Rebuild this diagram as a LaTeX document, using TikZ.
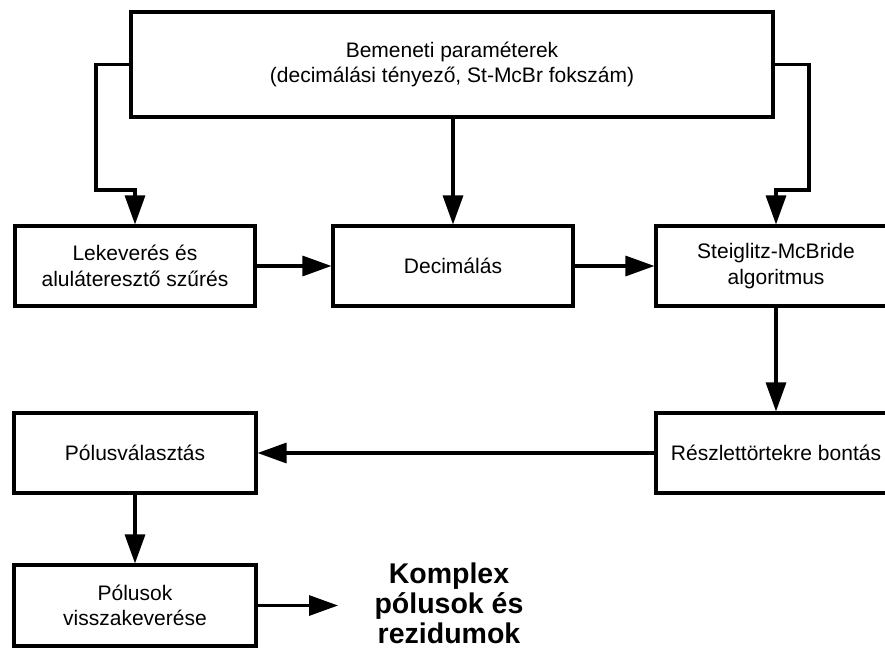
\documentclass[tikz,border=0pt]{standalone}
\usepackage{fontspec}
\setmainfont{Liberation Sans}
\usetikzlibrary{arrows.meta}
\begin{document}
\begin{tikzpicture}[x=1pt,y=-1pt,
  box/.style={draw,line width=3.1pt,fill=white,minimum width=240pt,minimum height=80pt,
    align=center,inner sep=0pt,font=\fontsize{21}{25.5}\selectfont},
  flow/.style={line width=3.1pt,-{Triangle[length=29pt,width=20pt]}}]
\useasboundingbox (0,0) rectangle (885,648);
\clip (0,0) rectangle (885,648);
\fill[white] (0,0) rectangle (885,648);

% blocks
\node[box,minimum width=642pt,minimum height=105pt] (par) at (452,64.5)
  {Bemeneti paraméterek\\(decimálási tényező, St-McBr fokszám)};
\node[box] (mix) at (135,266) {Lekeverés és\\aluláteresztő szűrés};
\node[box] (dec) at (453,266) {Decimálás};
\node[box] (smb) at (776,266) {Steiglitz-McBride\\algoritmus};
\node[box] (pfd) at (776,453) {Részlettörtekre bontás};
\node[box,minimum width=242pt] (sel) at (135,453) {Pólusválasztás};
\node[box,minimum width=242pt,minimum height=81pt] (rem) at (135,605.5) {Pólusok\\visszakeverése};
\node[align=center,inner sep=0pt,font=\fontsize{28.5}{30}\selectfont\bfseries] (res) at (449,603)
  {Komplex\\pólusok és\\rezidumok};

% routing points
\coordinate (lk) at (96,190);
\coordinate (rk) at (809,190);
\coordinate (out) at (338,605.5);

% connectors
\draw[flow] (par.west) -| (lk) -- (lk -| mix.north) -- (mix.north);
\draw[flow] (par.east) -| (rk) -- (rk -| smb.north) -- (smb.north);
\draw[flow] (par.south -| dec.north) -- (dec.north);
\draw[flow] (mix) -- (dec);
\draw[flow] (dec) -- (smb);
\draw[flow] (smb) -- (pfd);
\draw[flow] (pfd) -- (sel);
\draw[flow] (sel) -- (rem);
\draw[flow] (rem.east) -- (out);
\end{tikzpicture}
\end{document}
